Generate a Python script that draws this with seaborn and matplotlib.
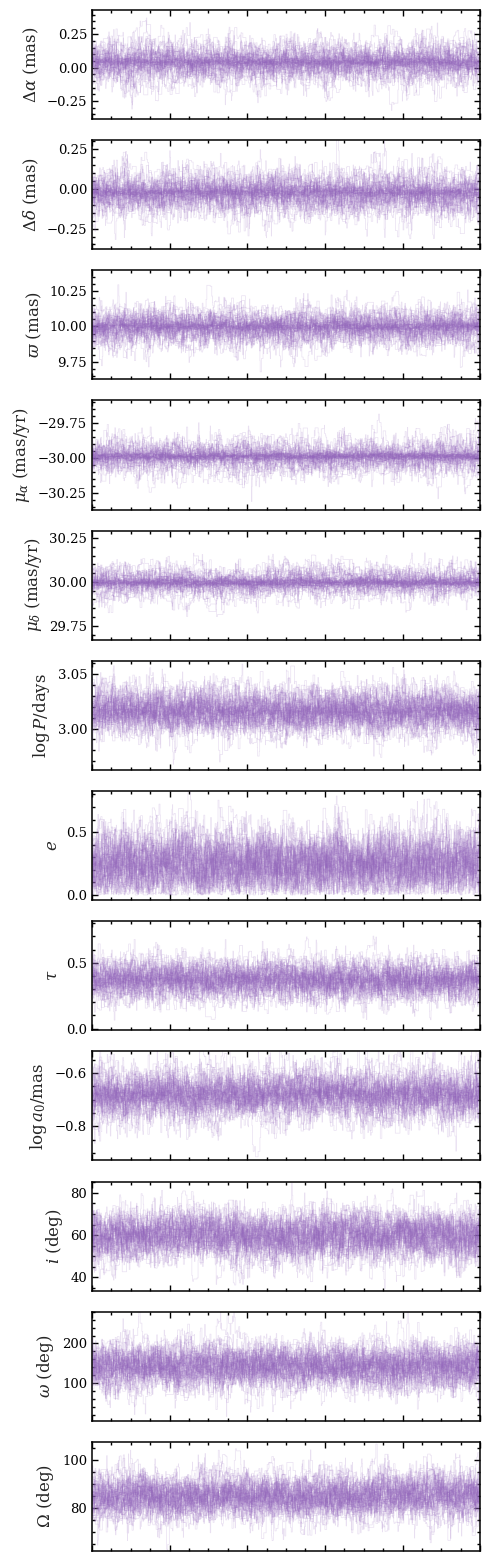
import numpy as np
import pandas as pd
import matplotlib
matplotlib.use("Agg")
import matplotlib.pyplot as plt
from matplotlib.ticker import MultipleLocator, AutoMinorLocator
import seaborn as sns

# ---- values ----
labels = [r"$\Delta\alpha$ (mas)", r"$\Delta\delta$ (mas)", r"$\varpi$ (mas)",
          r"$\mu_\alpha$ (mas/yr)", r"$\mu_\delta$ (mas/yr)", r"$\log P/{\rm days}$",
          r"$e$", r"$\tau$", r"$\log a_0/{\rm mas}$", r"$i$ (deg)",
          r"$\omega$ (deg)", r"$\Omega$ (deg)"]
centers = [0.04, -0.02, 10.00, -29.99, 29.995, 3.016, 0.25, 0.37, -0.68, 60.0, 140.0, 85.0]
spreads = [0.08, 0.07, 0.075, 0.07, 0.055, 0.011, 0.14, 0.08, 0.05, 6.0, 30.0, 5.0]
core_fraction = [0.3, 0.3, 0.3, 0.5, 0.5, 0.1, 0.0, 0.1, 0.1, 0.0, 0.0, 0.0]
lower_bounds = [None, None, None, None, None, None, 0.0, 0.0, None, None, None, None]
ylim_low = [-0.386, -0.38, 9.626, -30.37, 29.67, 2.962, -0.04, -0.012, -0.927, 33.7, 5.3, 62.3]
ylim_high = [0.434, 0.307, 10.396, -29.59, 30.292, 3.0623, 0.827, 0.815, -0.519, 85.4, 280.0, 107.5]
major_steps = [0.25, 0.25, 0.25, 0.25, 0.25, 0.05, 0.5, 0.5, 0.2, 20, 100, 20]
n_walkers = 50
n_steps = 1500

rng = np.random.default_rng(11)


def make_chain(center, spread, lo, core):
    out = np.empty((n_walkers, n_steps))
    scale = spread * rng.uniform(0.55, 1.3, n_walkers)
    n_core = int(round(core * n_walkers))
    scale[:n_core] = spread * rng.uniform(0.15, 0.35, n_core)
    offs = rng.normal(0, 0.25 * spread, n_walkers)
    offs[:n_core] *= 0.3
    cur = center + offs + rng.normal(0, 1, n_walkers) * scale
    rho = 0.8
    for t in range(n_steps):
        prop = (center + offs + rho * (cur - center - offs)
                + np.sqrt(1 - rho ** 2) * scale * rng.normal(size=n_walkers))
        acc = rng.random(n_walkers) < 0.25
        cur = np.where(acc, prop, cur)
        if lo is not None:
            cur = np.where(cur < lo, 2 * lo - cur, cur)
        out[:, t] = cur
    return out


sns.set_theme(style="ticks")
plt.rcParams["font.family"] = ["DejaVu Serif"]
plt.rcParams["mathtext.fontset"] = "dejavuserif"

fig, axes = plt.subplots(len(labels), 1, figsize=(4.89, 15.6), dpi=100, sharex=True)
fig.subplots_adjust(left=0.188, right=0.982, top=0.9936, bottom=0.0058, hspace=0.193)

steps = np.arange(n_steps)
for k, ax in enumerate(axes):
    x = make_chain(centers[k], spreads[k], lower_bounds[k], core_fraction[k])
    df = pd.DataFrame({"step": np.tile(steps, n_walkers),
                       "walker": np.repeat(np.arange(n_walkers), n_steps),
                       "value": x.ravel()})
    sns.lineplot(data=df, x="step", y="value", units="walker", estimator=None,
                 color="#9467bd", alpha=0.2, lw=0.5, ax=ax, legend=False,
                 drawstyle="steps-post")
    ax.set_xlim(0, n_steps)
    ax.set_ylim(ylim_low[k], ylim_high[k])
    ax.yaxis.set_major_locator(MultipleLocator(major_steps[k]))
    ax.yaxis.set_minor_locator(AutoMinorLocator())
    ax.xaxis.set_major_locator(MultipleLocator(300))
    ax.xaxis.set_minor_locator(MultipleLocator(75))
    ax.set_xlabel("")
    ax.set_ylabel(labels[k], fontsize=12)
    ax.tick_params(which="both", direction="in", top=True, right=True,
                   labelbottom=False, colors="black", width=1.0)
    ax.tick_params(which="major", length=4.5, labelsize=9.5)
    ax.tick_params(which="minor", length=2.2)
    for sp in ax.spines.values():
        sp.set_linewidth(1.1)
        sp.set_color("black")

fig.savefig("out.png", dpi=100)
